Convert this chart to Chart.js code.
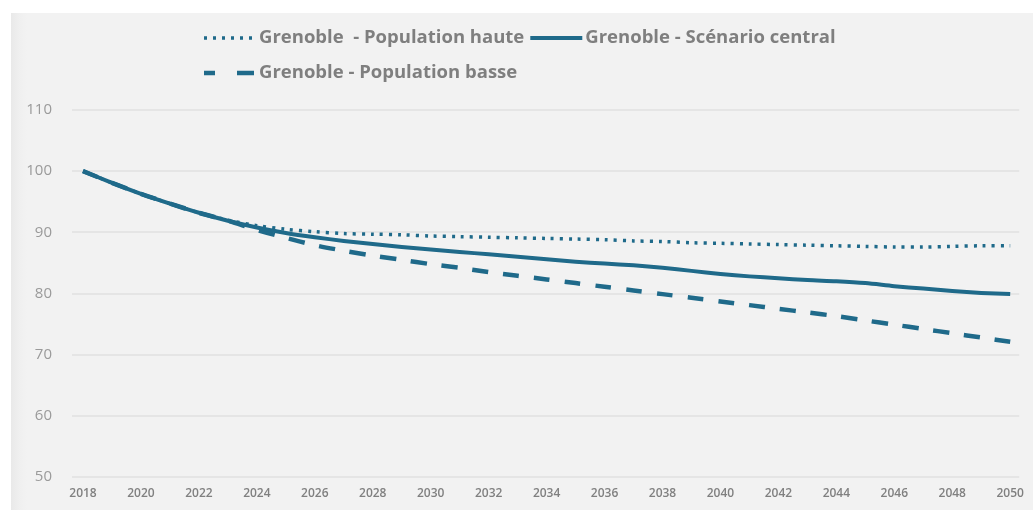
<!DOCTYPE html>
<html lang="fr">
<head>
<meta charset="utf-8">
<title>Grenoble – projections de population</title>
<script src="https://cdn.jsdelivr.net/npm/chart.js@4.4.1/dist/chart.umd.min.js"></script>
<style>
  html, body { margin: 0; padding: 0; background: #ffffff; }
  #wrap { position: relative; width: 1033px; height: 510px; overflow: hidden; }
  #panel {
    position: absolute; left: 11px; top: 13px; right: 0; bottom: 0;
    background: linear-gradient(to right, #e9e9e9 0px, #efefef 8px, #f2f2f2 16px, #f2f2f2 100%);
  }
  #chart { position: absolute; left: 0; top: 0; }
</style>
</head>
<body>
<div id="wrap">
  <div id="panel"></div>
  <canvas id="chart" width="1033" height="510"></canvas>
</div>
<script>
// Années de projection (base 100 en 2018)
const years = [2018, 2019, 2020, 2021, 2022, 2023, 2024, 2025, 2026, 2027, 2028,
               2029, 2030, 2031, 2032, 2033, 2034, 2035, 2036, 2037, 2038, 2039,
               2040, 2041, 2042, 2043, 2044, 2045, 2046, 2047, 2048, 2049, 2050];

// Années affichées sous l'axe horizontal
const yearTicks = [2018, 2020, 2022, 2024, 2026, 2028, 2030, 2032, 2034,
                   2036, 2038, 2040, 2042, 2044, 2046, 2048, 2050];

// Graduations de l'axe vertical
const indexTicks = [50, 60, 70, 80, 90, 100, 110];

const seriesNames = [
  "Grenoble  - Population haute",
  "Grenoble - Scénario central",
  "Grenoble - Population basse"
];

const popHaute = [100, 98.1, 96.3, 94.7, 93.2, 92.0, 91.1, 90.5, 90.1, 89.8, 89.7,
                  89.6, 89.4, 89.3, 89.2, 89.1, 89.0, 88.9, 88.8, 88.6, 88.5, 88.3,
                  88.2, 88.1, 88.0, 87.9, 87.8, 87.7, 87.6, 87.6, 87.7, 87.8, 87.8];

const scenarioCentral = [100, 98.1, 96.3, 94.7, 93.2, 91.9, 90.8, 89.9, 89.2, 88.6, 88.1,
                         87.6, 87.2, 86.8, 86.4, 86.0, 85.6, 85.2, 84.9, 84.6, 84.2, 83.7,
                         83.2, 82.8, 82.5, 82.2, 82.0, 81.7, 81.2, 80.8, 80.4, 80.1, 79.9];

const popBasse = [100, 98.1, 96.3, 94.7, 93.2, 91.9, 90.4, 89.1, 87.9, 87.0, 86.2,
                  85.5, 84.8, 84.2, 83.5, 82.9, 82.3, 81.7, 81.1, 80.5, 79.9, 79.3,
                  78.7, 78.1, 77.5, 76.9, 76.3, 75.6, 74.9, 74.2, 73.5, 72.8, 72.1];

const LINE_COLOR = '#1f6a8a';
const TEXT_COLOR = '#7f7f7f';

const toPoints = (vals) => years.map((y, i) => ({ x: y, y: vals[i] }));

// Légende dessinée sur le canevas : 2 éléments sur la 1re ligne, 1 sur la 2e, alignés à gauche
const topLegend = {
  id: 'topLegend',
  afterDraw(chart) {
    const ctx = chart.ctx;
    const ds = chart.data.datasets;
    const rows = [
      { y: 38, items: [0, 1] },
      { y: 73, items: [2] }
    ];
    const startX = 204;
    const sampleW = 52;
    ctx.save();
    ctx.font = 'bold 18.5px "Open Sans", sans-serif';
    ctx.textBaseline = 'middle';
    rows.forEach(row => {
      let x = startX;
      row.items.forEach(idx => {
        const d = ds[idx];
        ctx.strokeStyle = d.borderColor;
        ctx.lineWidth = d.borderWidth;
        ctx.lineCap = 'butt';
        if (idx === 0) ctx.setLineDash([3, 6]);
        else if (idx === 2) ctx.setLineDash([11, 22, 17, 10]);
        else ctx.setLineDash([]);
        ctx.beginPath();
        ctx.moveTo(x, row.y);
        ctx.lineTo(x + sampleW, row.y);
        ctx.stroke();
        ctx.setLineDash([]);
        x += sampleW + 3;
        ctx.fillStyle = TEXT_COLOR;
        ctx.fillText(d.label, x, row.y);
        x += ctx.measureText(d.label).width + 6;
      });
    });
    ctx.restore();
  }
};

new Chart(document.getElementById('chart'), {
  type: 'line',
  data: {
    datasets: [
      {
        label: seriesNames[0],
        data: toPoints(popHaute),
        borderColor: LINE_COLOR,
        borderWidth: 3.5,
        borderDash: [3, 6],
        pointRadius: 0,
        tension: 0.3,
        fill: false
      },
      {
        label: seriesNames[1],
        data: toPoints(scenarioCentral),
        borderColor: LINE_COLOR,
        borderWidth: 4,
        pointRadius: 0,
        tension: 0.3,
        fill: false
      },
      {
        label: seriesNames[2],
        data: toPoints(popBasse),
        borderColor: LINE_COLOR,
        borderWidth: 4.5,
        borderDash: [16, 15],
        pointRadius: 0,
        tension: 0.3,
        fill: false
      }
    ]
  },
  options: {
    responsive: false,
    animation: false,
    layout: { padding: { top: 110, right: 7, left: 0, bottom: 0 } },
    plugins: {
      legend: { display: false },
      tooltip: { enabled: false }
    },
    scales: {
      x: {
        type: 'linear',
        min: 2017.62,
        max: 2050.31,
        border: { display: false },
        grid: { display: false, drawTicks: false },
        afterBuildTicks: (scale) => { scale.ticks = yearTicks.map(v => ({ value: v })); },
        afterFit: (scale) => { scale.height = 33; },
        ticks: {
          autoSkip: false,
          maxRotation: 0,
          padding: 9,
          color: '#808080',
          font: { family: '"Open Sans", sans-serif', size: 12, weight: '600' },
          callback: (v) => String(v)
        }
      },
      y: {
        min: 50,
        max: 110,
        border: { display: false },
        grid: { color: '#e5e5e5', lineWidth: 2, drawTicks: false },
        afterBuildTicks: (scale) => { scale.ticks = indexTicks.map(v => ({ value: v })); },
        afterFit: (scale) => { scale.width = 72; },
        ticks: {
          padding: 20,
          color: '#9a9a9a',
          font: { family: '"Open Sans", sans-serif', size: 15 }
        }
      }
    }
  },
  plugins: [topLegend]
});
</script>
</body>
</html>
